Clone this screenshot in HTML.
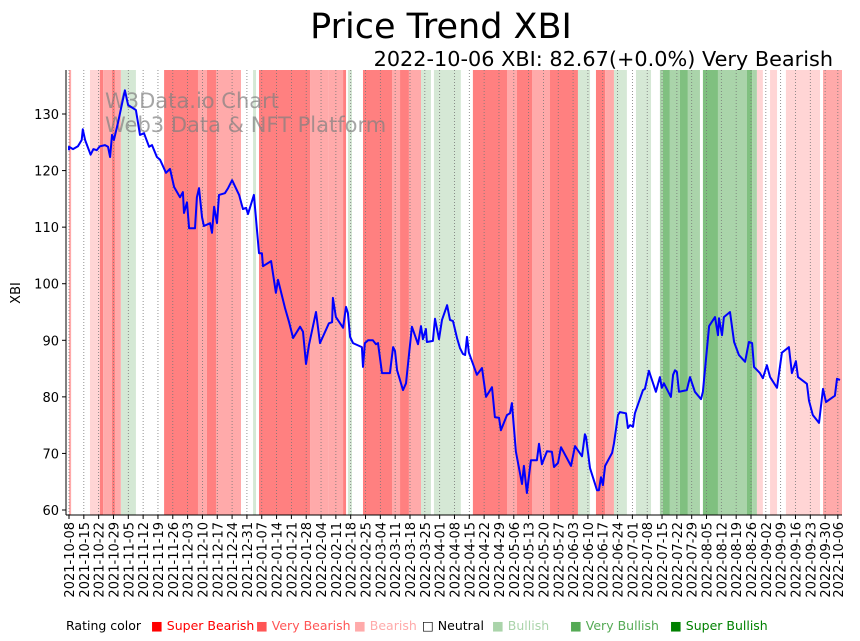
<!DOCTYPE html>
<html><head><meta charset="utf-8"><style>
body{margin:0;background:#fff;}
svg{display:block;font-family:"Liberation Sans","DejaVu Sans",sans-serif;}
</style></head><body>
<svg id="chart" width="860" height="641" viewBox="0 0 860 641" xmlns="http://www.w3.org/2000/svg">
<text x="441" y="38" font-size="35" text-anchor="middle" font-family="DejaVu Sans, Liberation Sans, sans-serif">Price Trend XBI</text>
<text x="833" y="66" font-size="20.8" text-anchor="end" font-family="DejaVu Sans, Liberation Sans, sans-serif">2022-10-06 XBI: 82.67(+0.0%) Very Bearish</text>
<g id="bands"></g>
<g id="grid"></g>
<text x="105" y="108" font-size="21" fill="#808080" fill-opacity="0.7" font-family="DejaVu Sans, sans-serif">W3Data.io Chart</text>
<text x="105" y="132" font-size="21" fill="#808080" fill-opacity="0.7" font-family="DejaVu Sans, sans-serif">Web3 Data &amp; NFT Platform</text>
<g id="line"></g>
<g id="axes"></g>
<text transform="translate(20,293) rotate(-90)" font-size="13" text-anchor="middle" font-family="DejaVu Sans, sans-serif">XBI</text>
<g font-size="12.5" font-family="DejaVu Sans, sans-serif">
<text x="66" y="630">Rating color</text>
<text x="151" y="630" fill="#ff0000">■ Super Bearish</text>
<text x="256" y="630" fill="#ff5555">■ Very Bearish</text>
<text x="354" y="630" fill="#ffaaaa">■ Bearish</text>
<text x="422" y="630" fill="#000">□ Neutral</text>
<text x="492" y="630" fill="#aad4aa">■ Bullish</text>
<text x="570" y="630" fill="#55aa55">■ Very Bullish</text>
<text x="670" y="630" fill="#008000">■ Super Bullish</text>
</g>
</svg>
<script>
const days=[0,0,1.9,4.2,6,6.5,7.6,10.2,11.5,13.1,14.6,17,18.4,19.4,20.3,21.2,23.1,26.4,27.9,31.6,33.5,35.4,37.8,39.2,41.5,43,45.8,47.7,49.6,52.4,53.8,54.3,55.7,56.7,59.5,60.4,61.4,62.8,63.7,66.6,67.5,68.5,69.9,70.8,73.6,75.1,77,80.3,82.1,83.6,84.5,87.3,89.7,91.1,91.6,95.4,97.7,98.7,102,103.9,105.8,109.1,110.5,111.9,113.3,116.6,118.5,122.7,124.2,124.6,126,129.4,130.8,131.7,132.7,134.1,138.3,138.8,139.7,141.2,143.5,144.9,145.9,147.8,151.5,153,153.9,154.9,157.7,159.1,161.9,164.8,166.2,167.1,168.5,169,171.8,172.8,174.7,176.1,178.5,179.9,181.3,183.2,184.6,186,187,187.9,188.8,192.6,195,196.9,199.7,201.1,203,203.9,206.8,208.2,209.1,211,213.9,214.8,216.2,218.1,220.9,221.9,223.3,225.7,228,229,230.9,232.3,237,238.9,242.2,243.6,244.1,246,249.3,250.2,251.2,252.1,253.1,256.4,257.3,259.2,260.1,263,263.9,264.9,266.3,267.2,271,271.9,273.8,277.1,279,279.9,280.9,284.2,285.2,286.1,287,288,291.7,293.2,295.5,298.4,299.3,302.2,305,306.4,306.9,308.3,309.2,312.1,314,316.3,319.2,321,322.5,323.4,326.2,327.6,329.5,331,334.3,336.6,339.9,341.3,343.2,344.2,348.4,349.4,351.2,354.1,356,357.4,361.6,362.6,364];
const prices=[123.6,124.2,123.8,124.3,125.4,127.3,125.4,122.8,123.8,123.6,124.3,124.5,124.2,122.4,126.3,125.4,128.4,134.2,131.6,130.7,126.3,126.6,124.2,124.5,122.4,121.9,119.6,120.3,117.1,115.3,116.2,112.5,114.4,109.8,109.8,115.3,116.9,111.8,110.2,110.7,109,113.6,110.7,115.7,116,116.9,118.3,115.7,113.2,113.4,112.3,115.7,105.4,105.4,103.1,104,98.4,100.7,95.7,93.2,90.4,92.4,91.5,85.8,89.2,95,89.5,93,93.2,97.5,94.1,92.2,95.9,94.8,90.6,89.5,88.8,85.3,89.5,90,90,89.3,89.5,84.2,84.2,88.8,88.1,84.7,81.2,82.4,92.4,89.3,92.5,90.2,92,89.7,89.9,93.8,90.2,93.6,96.2,93.6,93.4,90.4,88.6,87.6,87.4,90.6,87.8,83.9,85.1,80,81.7,76.4,76.3,74.1,76.8,77.1,78.9,70.3,64.6,67.8,63,68.8,68.8,71.7,68.1,70.4,70.3,67.6,68.3,71.1,67.8,71.3,69.5,73.4,72.9,67.4,63.5,63.5,65.8,64.4,67.8,70.1,71.8,76.8,77.3,77.1,74.5,75,74.7,77.1,81.2,81.4,84.6,80.9,83.5,81.6,82.4,80,83.9,84.7,84.4,80.9,81.2,83.5,80.9,79.6,80.9,92.5,94.1,90.9,93.9,90.9,94.1,95,89.7,87.4,86.2,89.7,89.5,85.3,84.2,83.3,85.6,83.5,81.6,87.8,88.8,84.2,86.3,83.5,82.3,79.3,76.8,75.4,81.4,79.1,80.2,83.2,83];
const bandStart=[0,9.9,14.6,16.1,20.3,21.7,24.5,44.9,60.9,65.1,69.4,86.9,89.7,113.8,122.7,129.4,131.7,138.8,152.5,156.3,160.5,166.2,172.3,190.7,206.8,211.5,218.6,227.1,240.3,248.8,253.1,257.3,267.7,279,280.4,283.7,288.4,292.2,299.3,306.4,320.1,322.5,324.8,331,338.5,356];
const bandEnd=[1,14.6,16.1,20.3,21.7,24.5,31.6,60.9,65.1,69.4,81.2,88.3,113.8,122.7,129.4,130.8,133.6,152.5,156.3,160.5,166.2,170.9,185,206.8,211.5,218.6,227.1,240.3,246,253.1,257.3,263.4,274.8,280.4,283.7,288.4,292.2,297.9,306.4,320.1,322.5,324.8,327.6,334.3,354.6,365];
const bandRating=['B','A','C','B','C','B','G1','C','B','C','B','G1','C','B','B','C','G1','C','B','C','B','G1','G1','C','B','C','B','C','G1','C','B','G1','G1','G2','G3','G2','G3','G2','G3','G2','G3','G2','A','A','A','B'];
const yTicks=[60,70,80,90,100,110,120,130];
const tickDays=[0,7,14,21,28,35,42,49,56,63,70,77,84,91,98,105,112,119,126,133,140,147,154,161,168,175,182,189,196,203,210,217,224,231,238,245,252,259,266,273,280,287,294,301,308,315,322,329,336,343,350,357,363];
const startDate='2021-10-08';
const NS='http://www.w3.org/2000/svg';
const X0=69,PXD=2.118,Y0=510,PXV=5.657,TOP=70,BOT=515,LEFT=66,RIGHT=842;
const xs=d=>X0+d*PXD, ys=v=>Y0-(v-60)*PXV;
const colors={A:'#ffd5d5',B:'#ffaaaa',C:'#ff8080',G1:'#d5e8d5',G2:'#aad4aa',G3:'#80c080'};
function mk(t,a,p){const e=document.createElementNS(NS,t);for(const k in a)e.setAttribute(k,a[k]);p.appendChild(e);return e;}
const bands=document.getElementById('bands');
bandStart.forEach((s,i)=>{
 const x1=Math.max(LEFT,xs(s)),x2=Math.min(RIGHT,xs(bandEnd[i]));
 const r=mk('rect',{x:x1,y:TOP,width:Math.max(0,x2-x1),height:BOT-TOP,fill:colors[bandRating[i]]},bands);
 
 
});
const grid=document.getElementById('grid'),axes=document.getElementById('axes');
const sd=new Date(startDate+'T00:00:00Z');
tickDays.forEach(d=>{
 const x=xs(d);
 const g=mk('line',{x1:x,x2:x,y1:TOP,y2:BOT,stroke:'#777','stroke-width':0.8,'stroke-dasharray':'1,2'},grid);
 
 
 const t=mk('line',{x1:x,x2:x,y1:BOT,y2:BOT+4,stroke:'#000','stroke-width':1},axes);
 
 
 const dt=new Date(sd.getTime()+d*86400000);
 const lab=mk('text',{transform:`translate(${x+5},${BOT+7}) rotate(-90)`,'font-size':13,'text-anchor':'end','font-family':'DejaVu Sans, sans-serif'},axes);
 lab.textContent=dt.toISOString().slice(0,10);
 
 
});
yTicks.forEach(v=>{
 const y=ys(v);
 const t=mk('line',{x1:LEFT-4,x2:LEFT,y1:y,y2:y,stroke:'#000'},axes);
 
 
 const l=mk('text',{x:LEFT-7,y:y+5,'font-size':13,'text-anchor':'end','font-family':'DejaVu Sans, sans-serif'},axes);
 l.textContent=v;
 
 
});
const sp1=mk('line',{x1:LEFT,x2:LEFT,y1:TOP,y2:BOT,stroke:'#000','stroke-width':1},axes);


const sp2=mk('line',{x1:LEFT,x2:RIGHT,y1:BOT,y2:BOT,stroke:'#000','stroke-width':1},axes);


const pts=days.map((d,i)=>xs(d).toFixed(1)+','+ys(prices[i]).toFixed(1)).join(' ');
const pl=mk('polyline',{points:pts,fill:'none',stroke:'#0000ff','stroke-width':2,'stroke-linejoin':'round'},document.getElementById('line'));


</script>
</body></html>
